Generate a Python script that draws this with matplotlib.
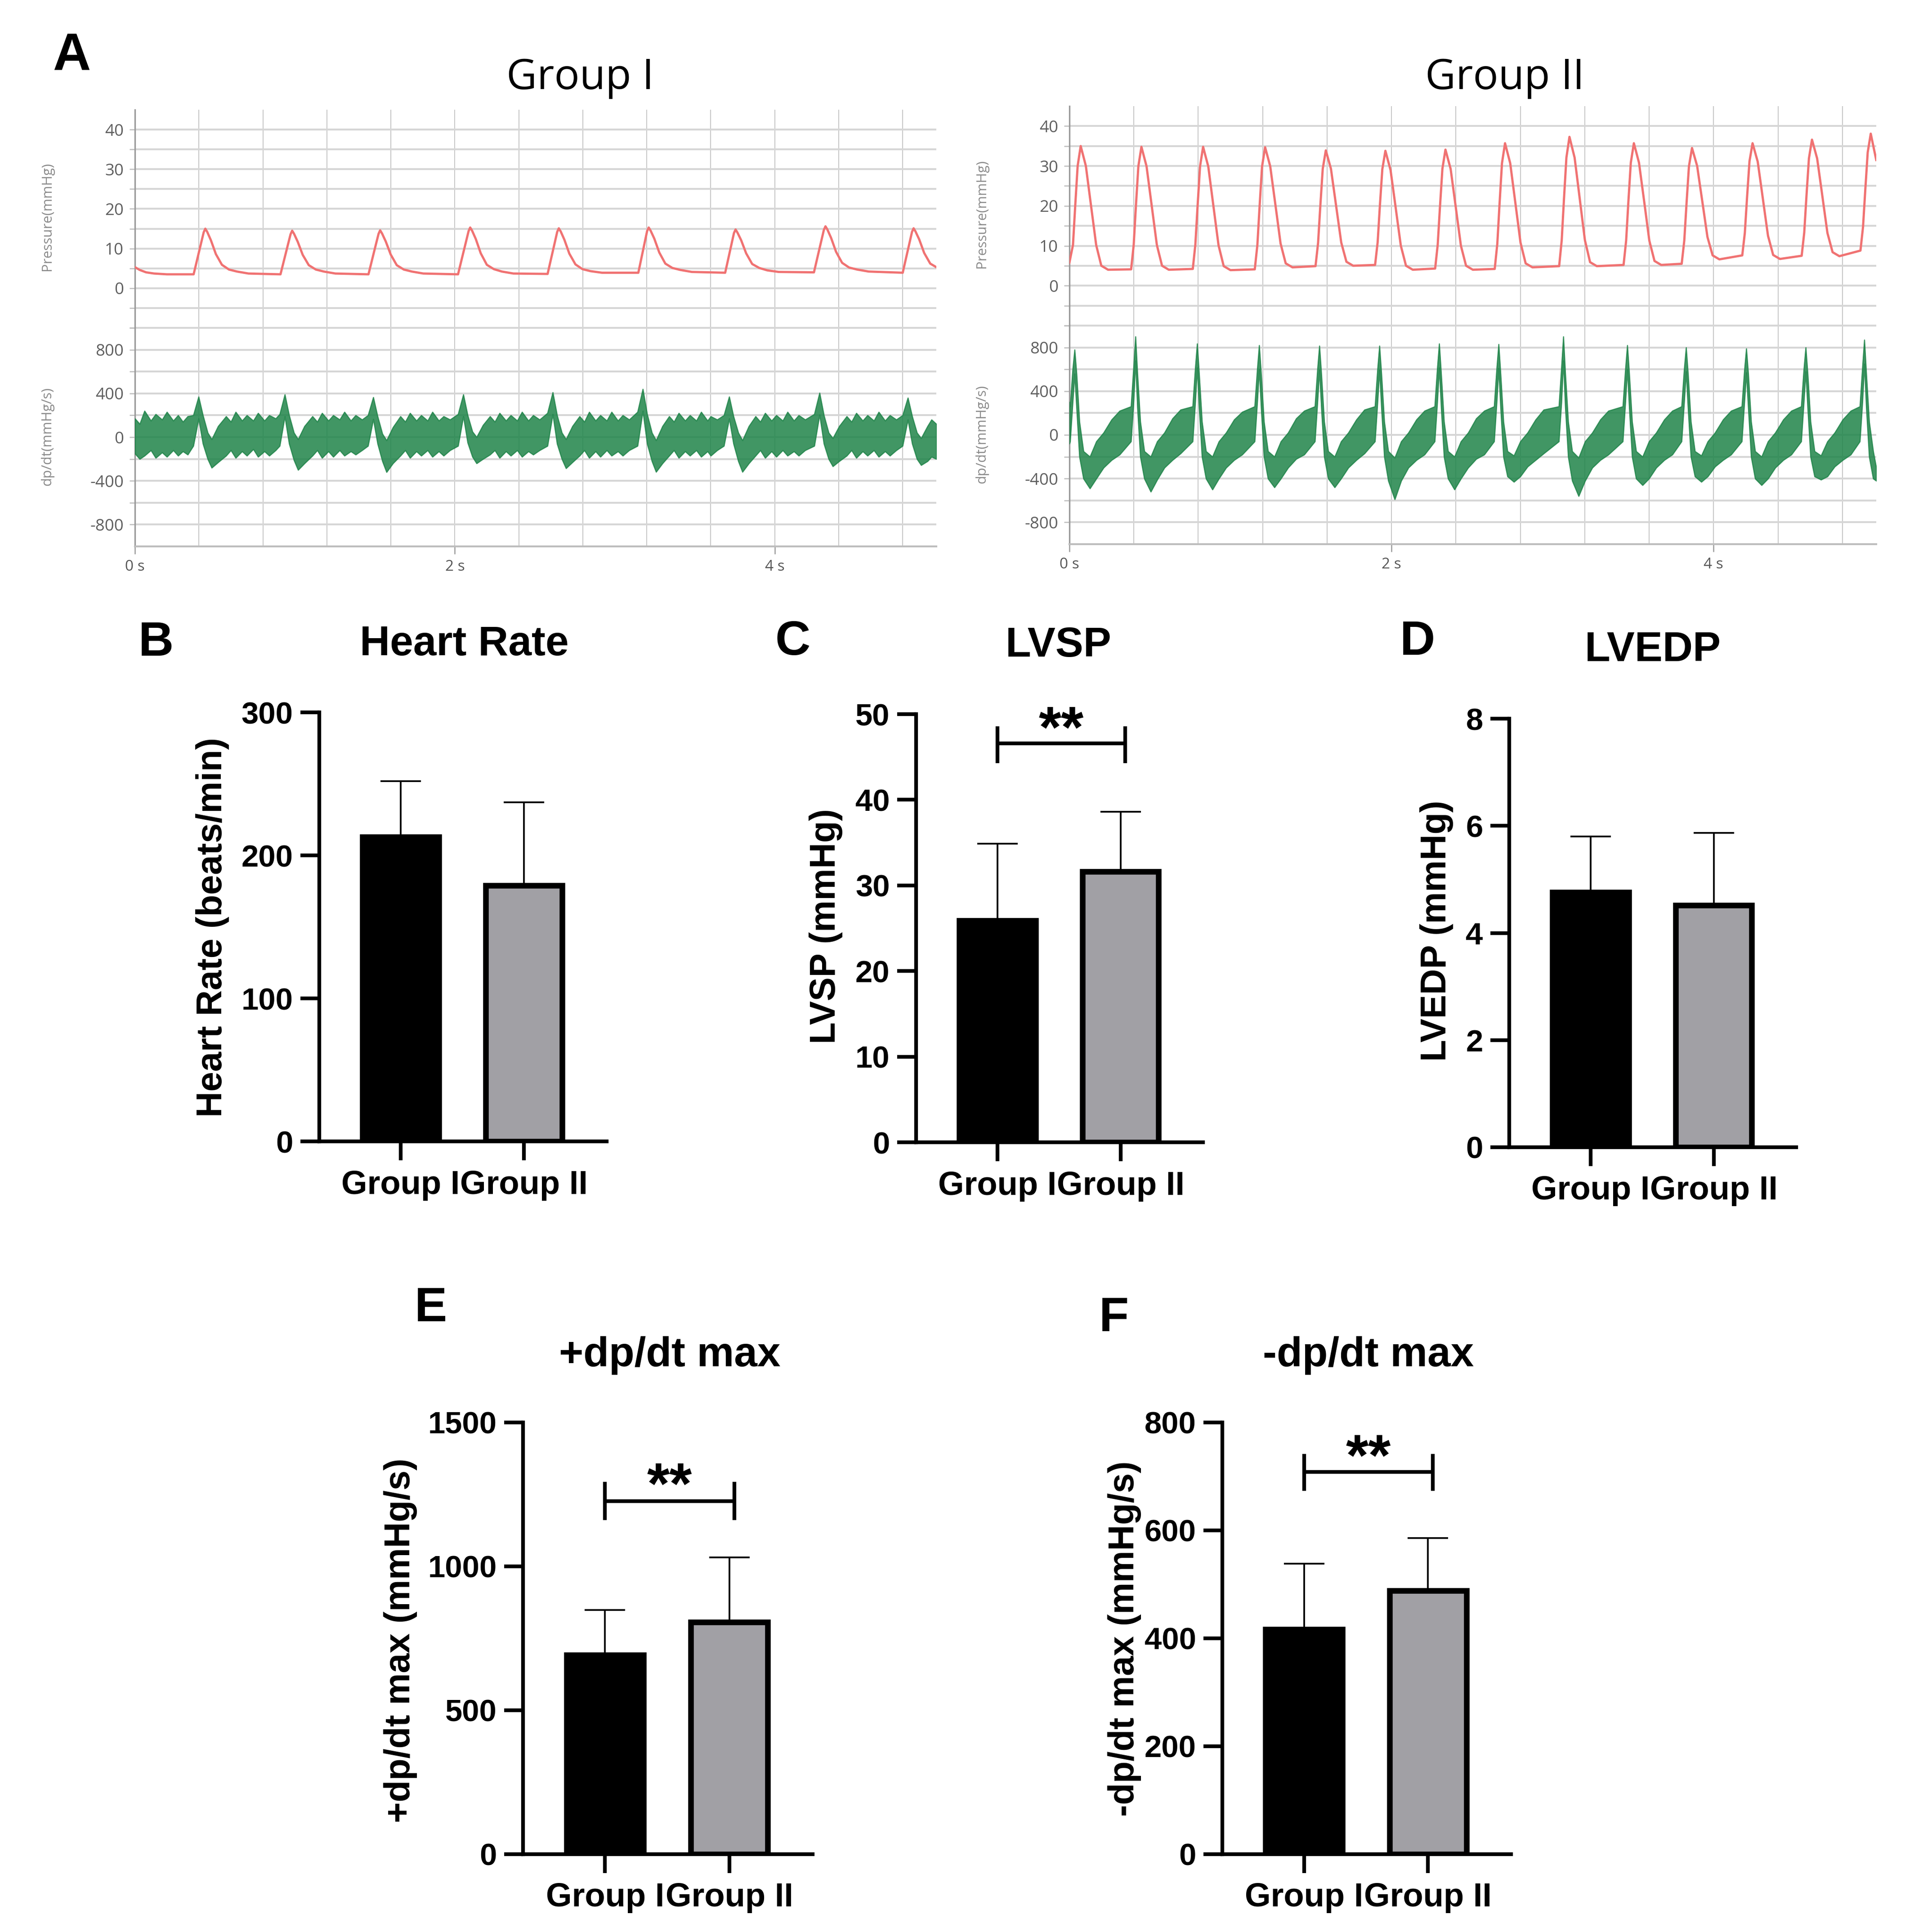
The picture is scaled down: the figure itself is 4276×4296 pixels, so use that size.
import matplotlib
matplotlib.use("Agg")
import matplotlib.pyplot as plt
from matplotlib.ticker import FixedLocator, MultipleLocator

# ===== CANVAS =====
W, H = 4276, 4296
DPI = 300

# ===== DATA : panel A traces (time s, value) =====
press_g1 = [
    (0.0, 5.3), (0.03, 4.6), (0.07, 4.0), (0.12, 3.7), (0.2, 3.5),
    (0.367, 3.5), (0.43, 14.1), (0.44, 15.0), (0.452, 14.2), (0.475, 12.1), (0.506, 8.6), (0.544, 5.9), (0.588, 4.7), (0.638, 4.2), (0.71, 3.7),
    (0.91, 3.5), (0.973, 13.6), (0.983, 14.5), (0.995, 13.7), (1.018, 11.7), (1.049, 8.4), (1.087, 5.8), (1.131, 4.7), (1.181, 4.2), (1.253, 3.7),
    (1.46, 3.5), (1.523, 13.7), (1.533, 14.6), (1.545, 13.8), (1.568, 11.8), (1.599, 8.5), (1.637, 5.8), (1.681, 4.7), (1.731, 4.2), (1.803, 3.7),
    (2.02, 3.5), (2.086, 14.4), (2.096, 15.3), (2.108, 14.5), (2.131, 12.4), (2.162, 8.8), (2.2, 5.9), (2.244, 4.8), (2.294, 4.2), (2.366, 3.7),
    (2.58, 3.6), (2.64, 14.2), (2.65, 15.1), (2.662, 14.3), (2.685, 12.2), (2.716, 8.7), (2.754, 6.0), (2.798, 4.8), (2.848, 4.3), (2.92, 3.9),
    (3.147, 3.9), (3.202, 14.4), (3.212, 15.3), (3.224, 14.5), (3.247, 12.5), (3.278, 9.0), (3.316, 6.2), (3.36, 5.1), (3.41, 4.6), (3.482, 4.1),
    (3.69, 3.9), (3.745, 13.9), (3.755, 14.8), (3.767, 14.0), (3.79, 12.1), (3.821, 8.8), (3.859, 6.1), (3.903, 5.1), (3.953, 4.5), (4.025, 4.1),
    (4.245, 4.0), (4.307, 14.7), (4.317, 15.6), (4.329, 14.8), (4.352, 12.7), (4.383, 9.2), (4.421, 6.4), (4.465, 5.2), (4.515, 4.7), (4.587, 4.2),
    (4.80, 3.9), (4.858, 14.2), (4.868, 15.1), (4.88, 14.3), (4.903, 12.3), (4.934, 8.9), (4.972, 6.2), (5.01, 5.3),
]

press_g2 = [
    (0.0, 5.8), (0.022, 10.2), (0.036, 20.1), (0.051, 30.0), (0.070, 35.0), (0.102, 30.0), (0.134, 20.1), (0.166, 10.2), (0.198, 5.0), (0.24, 4.0),
    (0.383, 4.1), (0.399, 10.2), (0.413, 20.1), (0.428, 29.9), (0.447, 34.8), (0.479, 29.9), (0.511, 20.0), (0.543, 10.2), (0.575, 5.0), (0.617, 4.0),
    (0.766, 4.2), (0.782, 10.3), (0.796, 20.1), (0.811, 29.9), (0.830, 34.8), (0.862, 29.9), (0.894, 20.0), (0.926, 10.1), (0.958, 4.9), (1.0, 3.9),
    (1.151, 4.1), (1.167, 10.2), (1.181, 20.0), (1.196, 29.8), (1.215, 34.7), (1.247, 29.9), (1.279, 20.3), (1.311, 10.6), (1.343, 5.6), (1.385, 4.6),
    (1.528, 4.9), (1.544, 10.7), (1.558, 20.0), (1.573, 29.3), (1.592, 33.9), (1.624, 29.3), (1.656, 20.0), (1.688, 10.8), (1.72, 6.0), (1.762, 5.0),
    (1.898, 5.2), (1.914, 10.9), (1.928, 20.1), (1.943, 29.2), (1.962, 33.8), (1.994, 29.0), (2.026, 19.5), (2.058, 10.0), (2.09, 5.0), (2.132, 4.0),
    (2.271, 4.3), (2.287, 10.3), (2.301, 19.8), (2.316, 29.3), (2.335, 34.1), (2.367, 29.3), (2.399, 19.7), (2.431, 10.0), (2.463, 5.0), (2.505, 4.0),
    (2.641, 4.2), (2.657, 10.5), (2.671, 20.6), (2.686, 30.7), (2.705, 35.7), (2.737, 30.7), (2.769, 20.8), (2.801, 10.8), (2.833, 5.6), (2.875, 4.6),
    (3.041, 4.9), (3.057, 11.4), (3.071, 21.7), (3.086, 32.1), (3.105, 37.3), (3.137, 32.1), (3.169, 21.7), (3.201, 11.4), (3.233, 5.9), (3.275, 4.9),
    (3.441, 5.2), (3.457, 11.3), (3.471, 21.1), (3.486, 30.8), (3.505, 35.7), (3.537, 30.8), (3.569, 21.1), (3.601, 11.3), (3.633, 6.2), (3.675, 5.2),
    (3.802, 5.5), (3.818, 11.3), (3.832, 20.6), (3.847, 29.9), (3.866, 34.5), (3.898, 30.0), (3.93, 21.1), (3.962, 12.2), (3.994, 7.6), (4.036, 6.6),
    (4.178, 7.6), (4.194, 13.2), (4.208, 22.2), (4.223, 31.2), (4.242, 35.7), (4.274, 31.1), (4.306, 21.8), (4.338, 12.5), (4.37, 7.7), (4.412, 6.7),
    (4.547, 7.5), (4.563, 13.3), (4.577, 22.6), (4.592, 31.9), (4.611, 36.6), (4.643, 31.9), (4.675, 22.6), (4.707, 13.2), (4.739, 8.4), (4.781, 7.4),
    (4.912, 8.8), (4.928, 14.7), (4.942, 24.0), (4.957, 33.4), (4.976, 38.1), (5.01, 31.5),
]

# dp/dt noise band: (time s, lower edge, upper edge)
dpdt_g1 = [
    (0.0, -150, 170), (0.03, -200, 120), (0.06, -170, 240), (0.1, -120, 150), (0.13, -190, 210), (0.17, -140, 160), (0.2, -180, 230), (0.24, -120, 150), (0.27, -170, 200), (0.3, -130, 140), (0.33, -160, 190),
    (0.365, -80, 200), (0.398, 170, 370), (0.425, -60, 200), (0.455, -200, 40), (0.48, -280, -20), (0.52, -230, 100), (0.57, -170, 190), (0.6, -120, 140), (0.63, -190, 230), (0.67, -130, 150), (0.7, -170, 200), (0.74, -110, 150), (0.77, -180, 220), (0.81, -130, 150), (0.84, -170, 200), (0.88, -120, 170),
    (0.905, -80, 210), (0.937, 190, 390), (0.964, -60, 200), (0.994, -210, 40), (1.02, -300, -20), (1.06, -240, 100), (1.11, -170, 190), (1.14, -120, 140), (1.17, -190, 220), (1.21, -130, 150), (1.24, -180, 200), (1.28, -120, 160), (1.31, -170, 230), (1.35, -130, 150), (1.38, -160, 200), (1.42, -120, 160),
    (1.457, -80, 200), (1.49, 165, 365), (1.517, -60, 190), (1.547, -220, 30), (1.573, -320, -30), (1.613, -240, 90), (1.66, -170, 190), (1.69, -120, 140), (1.72, -190, 220), (1.76, -130, 150), (1.79, -170, 200), (1.83, -120, 150), (1.86, -180, 230), (1.9, -130, 150), (1.93, -170, 190), (1.97, -120, 160),
    (2.02, -80, 210), (2.053, 190, 390), (2.08, -50, 200), (2.11, -180, 50), (2.136, -240, 0), (2.176, -200, 110), (2.22, -160, 190), (2.25, -120, 140), (2.28, -190, 220), (2.32, -130, 150), (2.35, -170, 200), (2.39, -120, 150), (2.42, -180, 230), (2.46, -130, 150), (2.49, -160, 200), (2.53, -120, 160),
    (2.579, -80, 220), (2.612, 210, 410), (2.639, -60, 200), (2.669, -200, 40), (2.695, -285, -20), (2.735, -230, 100), (2.78, -170, 190), (2.81, -120, 140), (2.84, -190, 230), (2.88, -130, 150), (2.91, -180, 200), (2.95, -120, 150), (2.98, -170, 230), (3.02, -130, 150), (3.05, -170, 200), (3.09, -120, 160),
    (3.142, -80, 230), (3.175, 240, 440), (3.202, -60, 210), (3.232, -220, 40), (3.258, -318, -30), (3.298, -240, 100), (3.34, -170, 190), (3.37, -120, 140), (3.4, -190, 220), (3.44, -130, 150), (3.47, -170, 200), (3.51, -120, 150), (3.54, -180, 230), (3.58, -130, 150), (3.6, -170, 190), (3.64, -120, 160),
    (3.682, -80, 200), (3.715, 170, 370), (3.742, -60, 190), (3.772, -220, 40), (3.798, -318, -30), (3.838, -240, 100), (3.88, -170, 190), (3.91, -120, 140), (3.94, -190, 220), (3.98, -130, 150), (4.01, -180, 200), (4.05, -120, 150), (4.08, -170, 230), (4.12, -130, 150), (4.15, -170, 200), (4.19, -120, 160),
    (4.247, -80, 210), (4.28, 205, 405), (4.307, -60, 200), (4.337, -200, 40), (4.363, -267, -10), (4.403, -220, 100), (4.45, -170, 190), (4.48, -120, 140), (4.51, -190, 220), (4.55, -130, 150), (4.58, -170, 200), (4.62, -120, 150), (4.65, -180, 230), (4.69, -130, 150), (4.72, -170, 200), (4.76, -120, 160),
    (4.799, -80, 200), (4.832, 160, 360), (4.859, -60, 190), (4.889, -200, 40), (4.915, -256, -10), (4.955, -220, 100), (4.98, -180, 160), (5.01, -200, 120),
]

dpdt_g2 = [
    (0.0, -80, 300),
    (0.004, -60, 260), (0.020, 300, 600), (0.032, 560, 780), (0.044, 250, 560), (0.062, -200, 120), (0.087, -400, -150), (0.127, -490, -200), (0.167, -400, -60), (0.212, -300, 20), (0.262, -230, 140), (0.312, -180, 220),
    (0.382, -60, 260), (0.398, 300, 620), (0.41, 680, 900), (0.422, 250, 560), (0.44, -200, 120), (0.465, -400, -150), (0.505, -520, -200), (0.545, -410, -60), (0.59, -300, 20), (0.64, -230, 150), (0.69, -170, 230),
    (0.765, -60, 260), (0.781, 300, 610), (0.793, 615, 835), (0.805, 250, 560), (0.823, -200, 120), (0.848, -400, -150), (0.888, -500, -200), (0.928, -400, -60), (0.973, -300, 20), (1.023, -230, 140), (1.073, -180, 210),
    (1.15, -60, 260), (1.166, 300, 600), (1.178, 600, 820), (1.19, 250, 560), (1.208, -200, 120), (1.233, -400, -150), (1.273, -480, -200), (1.313, -400, -60), (1.358, -300, 20), (1.408, -220, 150), (1.458, -180, 220),
    (1.524, -60, 260), (1.54, 300, 600), (1.552, 595, 815), (1.564, 250, 560), (1.582, -200, 120), (1.607, -400, -150), (1.647, -480, -200), (1.687, -400, -60), (1.732, -300, 20), (1.782, -230, 140), (1.832, -170, 230),
    (1.897, -60, 260), (1.913, 300, 600), (1.925, 595, 815), (1.937, 250, 560), (1.955, -200, 120), (1.98, -420, -150), (2.02, -590, -210), (2.06, -420, -60), (2.105, -300, 20), (2.155, -230, 140), (2.205, -180, 220),
    (2.268, -60, 260), (2.284, 300, 610), (2.296, 615, 835), (2.308, 250, 560), (2.326, -200, 120), (2.351, -400, -150), (2.391, -500, -200), (2.431, -400, -60), (2.476, -300, 20), (2.526, -220, 150), (2.576, -180, 220),
    (2.637, -60, 260), (2.653, 300, 610), (2.665, 610, 830), (2.677, 250, 560), (2.695, -200, 120), (2.72, -380, -150), (2.76, -430, -190), (2.8, -380, -60), (2.845, -290, 20), (2.895, -230, 140), (2.945, -170, 230),
    (3.039, -60, 260), (3.055, 300, 620), (3.067, 680, 900), (3.079, 250, 560), (3.097, -200, 120), (3.122, -420, -150), (3.162, -560, -210), (3.202, -420, -60), (3.247, -300, 20), (3.297, -230, 140), (3.347, -180, 220),
    (3.436, -60, 260), (3.452, 300, 600), (3.464, 600, 820), (3.476, 250, 560), (3.494, -200, 120), (3.519, -400, -150), (3.559, -460, -200), (3.599, -400, -60), (3.644, -300, 20), (3.694, -230, 140), (3.744, -180, 220),
    (3.801, -60, 260), (3.817, 300, 600), (3.829, 580, 800), (3.841, 250, 560), (3.859, -200, 120), (3.884, -380, -150), (3.924, -430, -190), (3.964, -380, -60), (4.009, -290, 20), (4.059, -230, 140), (4.109, -180, 220),
    (4.175, -60, 260), (4.191, 300, 590), (4.203, 570, 790), (4.215, 250, 560), (4.233, -200, 120), (4.258, -400, -150), (4.298, -460, -200), (4.338, -400, -60), (4.383, -300, 20), (4.433, -230, 140), (4.483, -180, 220),
    (4.544, -60, 260), (4.56, 300, 600), (4.572, 580, 800), (4.584, 250, 560), (4.602, -200, 120), (4.627, -380, -150), (4.667, -410, -190), (4.707, -380, -60), (4.752, -290, 20), (4.802, -230, 140), (4.852, -180, 220),
    (4.908, -60, 260), (4.924, 300, 620), (4.936, 650, 870), (4.948, 250, 560), (4.966, -200, 120), (4.991, -400, -150), (5.01, -420, -300),
]

# ===== DATA : bar panels (mean, upper SD) =====
groups = ["Group I", "Group II"]
hr_mean = [213, 179]
hr_sd = [39, 58]
lvsp_mean = [25.9, 31.6]
lvsp_sd = [9.0, 7.0]
lvedp_mean = [4.76, 4.52]
lvedp_sd = [1.04, 1.35]
pdpdt_mean = [692, 806]
pdpdt_sd = [156, 225]
ndpdt_mean = [417, 488]
ndpdt_sd = [121, 98]

# significance brackets: (line y, tick top, tick bottom, stars centre y)
lvsp_sig = (46.6, 48.6, 44.3, 50.0)
pdpdt_sig = (1226, 1294, 1161, 1333)
ndpdt_sig = (708, 742, 673, 763)

# ===== STYLE =====
TRACE_FONT = "Open Sans"
BAR_FONT = "Liberation Sans"
GREY_BAR = "#a1a0a5"
RED = "#f07272"
GREEN = "#1f8449"
STAR_SIZE = 31

fig = plt.figure(figsize=(W / DPI, H / DPI), dpi=DPI, facecolor="white")


def px_axes(left, right, top, bottom):
    return fig.add_axes([left / W, 1 - bottom / H, (right - left) / W, (bottom - top) / H])


def ftext(x, y, s, **kw):
    fig.text(x / W, 1 - y / H, s, **kw)


def style_trace_axis(ax):
    ax.set_xlim(0, 5.01)
    ax.xaxis.set_major_locator(FixedLocator([0, 2, 4]))
    ax.xaxis.set_minor_locator(MultipleLocator(0.4))
    ax.grid(True, which="both", axis="y", color="#d6d6d6", lw=1.0, zorder=0)
    ax.grid(True, which="both", axis="x", color="#c8c8c8", lw=0.5, zorder=0)
    for side in ["top", "right"]:
        ax.spines[side].set_visible(False)
    ax.spines["left"].set_color("#9a9a9a")
    ax.spines["left"].set_linewidth(0.8)
    ax.tick_params(axis="y", which="both", length=3, width=0.6, color="#bdbdbd",
                   labelsize=8.8, labelcolor="#5f5f5f", pad=3)


def draw_trace_panel(left, right, top, mid, bottom, press, dpdt):
    axp = px_axes(left, right, top, mid)
    axd = px_axes(left, right, mid, bottom)

    # ----- pressure -----
    style_trace_axis(axp)
    axp.set_ylim(-10, 45)
    axp.set_yticks([0, 10, 20, 30, 40], ["0", "10", "20", "30", "40"], fontfamily=TRACE_FONT)
    axp.yaxis.set_minor_locator(FixedLocator([-10, -5, 5, 15, 25, 35]))
    axp.spines["bottom"].set_visible(False)
    axp.tick_params(axis="x", which="both", length=0, labelbottom=False)
    t, v = zip(*press)
    axp.plot(t, v, color=RED, lw=1.2, zorder=3)

    # ----- dp/dt -----
    style_trace_axis(axd)
    axd.set_ylim(-1000, 1000)
    axd.set_yticks([-800, -400, 0, 400, 800], ["-800", "-400", "0", "400", "800"], fontfamily=TRACE_FONT)
    axd.yaxis.set_minor_locator(FixedLocator([-600, -200, 200, 600, 1000]))
    axd.spines["bottom"].set_color("#bdbdbd")
    axd.spines["bottom"].set_linewidth(1.0)
    axd.set_xticks([0, 2, 4], ["0 s", "2 s", "4 s"], fontfamily=TRACE_FONT)
    axd.tick_params(axis="x", which="major", length=4, width=0.6, color="#9a9a9a",
                    labelsize=8, labelcolor="#555555", pad=3)
    axd.tick_params(axis="x", which="minor", length=0)
    t, lo, hi = zip(*dpdt)
    axd.fill_between(t, lo, hi, color=GREEN, alpha=0.85, lw=0.6, edgecolor=GREEN, zorder=3)

    ylab_x = left - 195
    ftext(ylab_x, (top + mid) / 2 - 5, "Pressure(mmHg)", rotation=90, ha="center", va="center",
          fontsize=7.4, color="#8a8a8a", family=TRACE_FONT)
    ftext(ylab_x, (mid + bottom) / 2 - 2, "dp/dt(mmHg/s)", rotation=90, ha="center", va="center",
          fontsize=7.4, color="#8a8a8a", family=TRACE_FONT)


def draw_bar_panel(left, right, top, bottom, means, sds, ymax, yticks, sig=None):
    ax = px_axes(left, right, top, bottom)
    x = [0, 1]
    ax.bar(x, means, width=0.62, color=["black", GREY_BAR], edgecolor="black",
           linewidth=3.0, zorder=3)
    ax.errorbar(x, means, yerr=[[0, 0], sds], fmt="none", ecolor="black",
                elinewidth=0.9, capsize=10.8, capthick=0.9, zorder=2)
    ax.set_xlim(-0.66, 1.67)
    ax.set_ylim(0, ymax)
    ax.set_yticks(yticks, [str(v) for v in yticks], fontsize=16.5, fontweight="bold", fontfamily=BAR_FONT)
    ax.set_xticks(x, groups, fontsize=17.8, fontweight="bold", fontfamily=BAR_FONT)
    for side in ["top", "right"]:
        ax.spines[side].set_visible(False)
    for side in ["left", "bottom"]:
        ax.spines[side].set_linewidth(2.0)
        ax.spines[side].set_capstyle("projecting")
    ax.tick_params(axis="y", length=10, width=2.0, pad=4)
    ax.tick_params(axis="x", length=10, width=2.0, pad=5)
    if sig is not None:
        y, y_hi, y_lo, star_y = sig
        ax.plot([0, 1.04], [y, y], color="black", lw=2.0, solid_capstyle="butt", clip_on=False)
        ax.plot([0, 0], [y_lo, y_hi], color="black", lw=2.0, solid_capstyle="butt", clip_on=False)
        ax.plot([1.04, 1.04], [y_lo, y_hi], color="black", lw=2.0, solid_capstyle="butt", clip_on=False)
        # asterisk glyphs sit high in the em box: shift baseline so the stars centre on star_y
        ax.annotate("**", xy=(0.52, star_y), xytext=(0, -0.57 * STAR_SIZE), textcoords="offset points",
                    ha="center", va="baseline", fontsize=STAR_SIZE, fontweight="bold",
                    fontfamily=BAR_FONT, annotation_clip=False)
    return ax


# ===== PANEL A =====
draw_trace_panel(300, 2082, 244, 729, 1215, press_g1, dpdt_g1)
draw_trace_panel(2378, 4172, 236, 724, 1210, press_g2, dpdt_g2)
ftext(159, 125, "A", ha="center", va="center", fontsize=28, fontweight="bold", family=BAR_FONT)
ftext(1290, 174, "Group I", ha="center", va="center", fontsize=22.5, family=TRACE_FONT)
ftext(3346, 174, "Group II", ha="center", va="center", fontsize=22.5, family=TRACE_FONT)

# ===== PANELS B-F =====
draw_bar_panel(710, 1349, 1584, 2538, hr_mean, hr_sd, 300, [0, 100, 200, 300])
draw_bar_panel(2037, 2675, 1588, 2540, lvsp_mean, lvsp_sd, 50, [0, 10, 20, 30, 40, 50], lvsp_sig)
draw_bar_panel(3356, 3994, 1598, 2551, lvedp_mean, lvedp_sd, 8, [0, 2, 4, 6, 8])
draw_bar_panel(1163, 1807, 3163, 4123, pdpdt_mean, pdpdt_sd, 1500, [0, 500, 1000, 1500], pdpdt_sig)
draw_bar_panel(2718, 3360, 3163, 4123, ndpdt_mean, ndpdt_sd, 800, [0, 200, 400, 600, 800], ndpdt_sig)

letter_kw = dict(ha="center", va="center", fontsize=26, fontweight="bold", family=BAR_FONT)
title_kw = dict(ha="center", va="center", fontsize=22.3, fontweight="bold", family=BAR_FONT)
ylab_kw = dict(ha="center", va="center", rotation=90, fontsize=19.1, fontweight="bold", family=BAR_FONT)

ftext(347, 1430, "B", **letter_kw)
ftext(1032, 1433, "Heart Rate", **title_kw)
ftext(472, 2062, "Heart Rate (beats/min)", **ylab_kw)

ftext(1763, 1428, "C", **letter_kw)
ftext(2354, 1436, "LVSP", **title_kw)
ftext(1836, 2060, "LVSP (mmHg)", **ylab_kw)

ftext(3152, 1428, "D", **letter_kw)
ftext(3675, 1446, "LVEDP", **title_kw)
ftext(3194, 2070, "LVEDP (mmHg)", **ylab_kw)

ftext(958, 2910, "E", **letter_kw)
ftext(1489, 3014, "+dp/dt max", **title_kw)
ftext(890, 3648, "+dp/dt max (mmHg/s)", **ylab_kw)

ftext(2477, 2932, "F", **letter_kw)
ftext(3043, 3014, "-dp/dt max", **title_kw)
ftext(2500, 3644, "-dp/dt max (mmHg/s)", **ylab_kw)

fig.savefig("out.png", dpi=DPI, facecolor="white")
